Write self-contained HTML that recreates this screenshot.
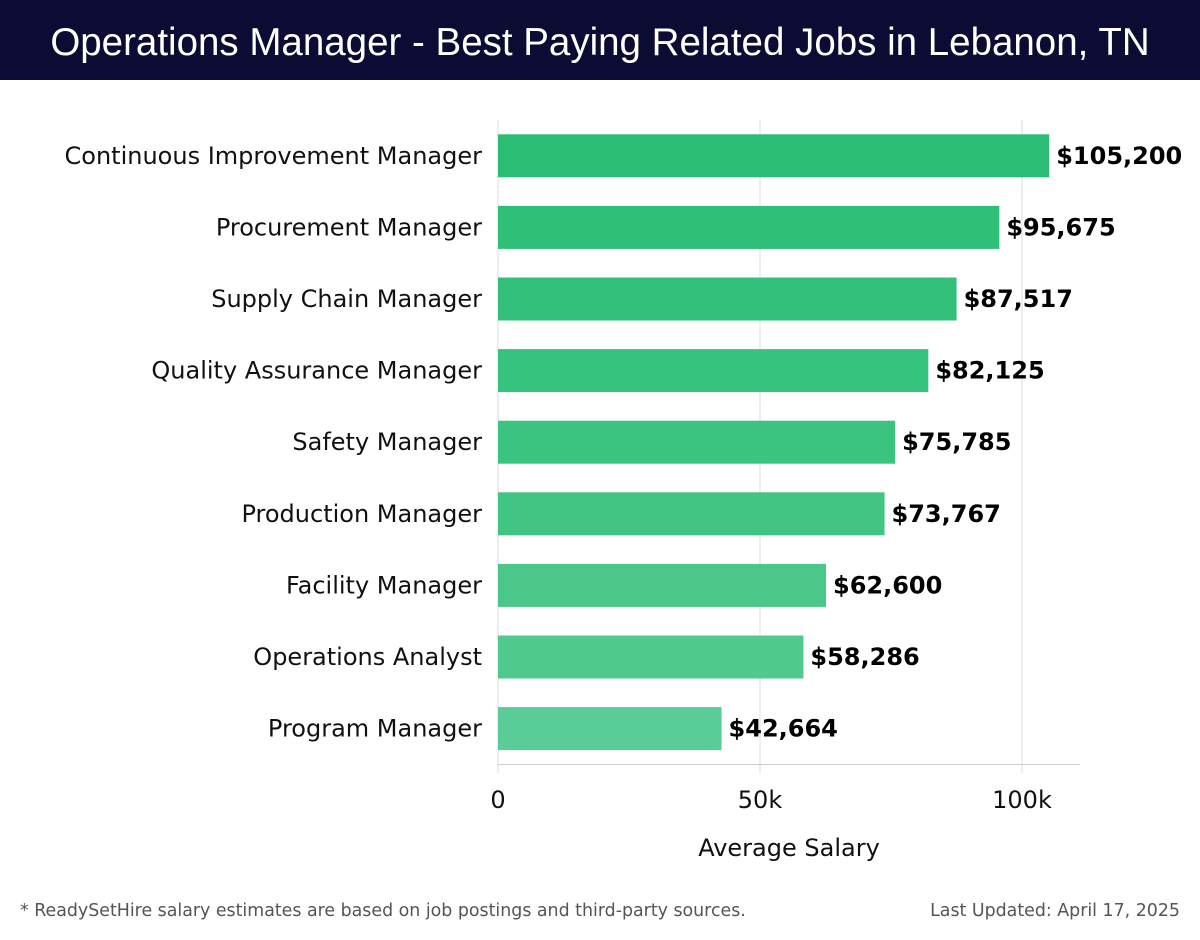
<!DOCTYPE html>
<html><head><meta charset="utf-8"><style>
body{margin:0;width:1200px;height:940px;background:#fff;overflow:hidden;font-family:"DejaVu Sans","Liberation Sans",sans-serif}
#hdr{position:absolute;left:0;top:0;width:1200px;height:80px;background:#0b0b33;color:#fff;font-family:"Liberation Sans",sans-serif;font-size:38.5px;text-align:center;line-height:86px;letter-spacing:0px}
.foot{position:absolute;top:901px;font-size:17.4px;color:#555;font-family:"DejaVu Sans",sans-serif}
</style></head><body>
<div id="hdr">Operations Manager - Best Paying Related Jobs in Lebanon, TN</div>
<svg id="chart" width="1200" height="940" style="position:absolute;left:0;top:0"></svg>
<div class="foot" style="left:20px">* ReadySetHire salary estimates are based on job postings and third-party sources.</div>
<div class="foot" style="right:20px">Last Updated: April 17, 2025</div>
<script>
const categories=["Continuous Improvement Manager","Procurement Manager","Supply Chain Manager","Quality Assurance Manager","Safety Manager","Production Manager","Facility Manager","Operations Analyst","Program Manager"];
const values=[105200,95675,87517,82125,75785,73767,62600,58286,42664];
const tickValues=[0,50000,100000];
const tickLabels=["0","50k","100k"];
const colors=["#2bbd73","#2fbf77","#33c07a","#37c27d","#3bc380","#40c583","#4ac789","#4fc98d","#59cc97"];
const NS="http://www.w3.org/2000/svg";
const svg=document.getElementById('chart');
const x0=498,pxPer=(1022-498)/100000,top0=120,step=71.6,bh=43;
const X=v=>x0+v*pxPer, Y=i=>top0+step*i+step/2;
function mk(t,a){const e=document.createElementNS(NS,t);for(const k in a)e.setAttribute(k,a[k]);svg.appendChild(e);return e;}
tickValues.forEach((v,i)=>{
 const g=mk('line',{x1:X(v),x2:X(v),y1:120,y2:773,stroke:'#ddd','stroke-width':1});
 
 
 const t=mk('text',{x:X(v),y:808,'text-anchor':'middle','font-size':24,fill:'#111'});
 t.textContent=tickLabels[i];
 
 
});
const ax=mk('line',{x1:x0,x2:1080,y1:764.5,y2:764.5,stroke:'#ccc','stroke-width':1});


categories.forEach((c,i)=>{
 const cy=Y(i);
 const r=mk('rect',{x:x0,y:cy-bh/2,width:X(values[i])-x0,height:bh,fill:colors[i]});
 
 
 const l=mk('text',{x:482,y:cy+8,'text-anchor':'end','font-size':24,fill:'#111'});
 l.textContent=c;
 
 
 const v=mk('text',{x:X(values[i])+7,y:cy+8,'font-size':24,'font-weight':'bold',fill:'#000'});
 v.textContent='$'+values[i].toLocaleString('en-US');
 
 
});
const at=mk('text',{x:789,y:856,'text-anchor':'middle','font-size':24,fill:'#111'});
at.textContent='Average Salary';


</script>
</body></html>
